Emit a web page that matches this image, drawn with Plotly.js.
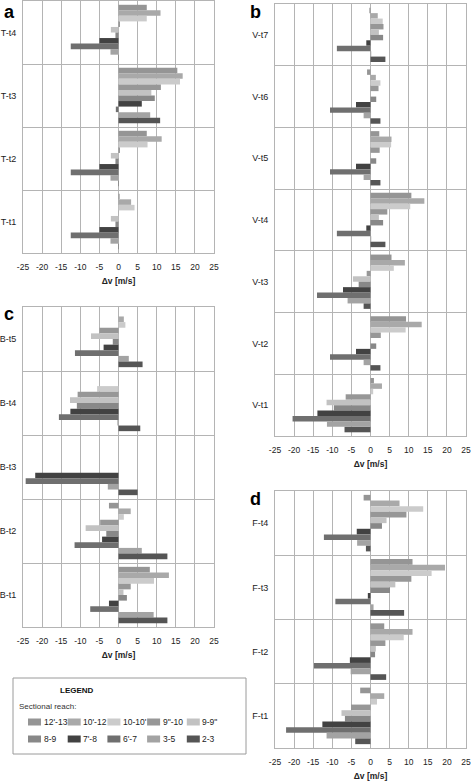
<!DOCTYPE html>
<html><head><meta charset="utf-8">
<script src="https://cdn.plot.ly/plotly-3.0.1.min.js"></script>
<style>html,body{margin:0;padding:0;background:#fff}#chart{width:472px;height:782px}</style>
</head><body><div id="chart"></div>
<script>
// ---- data ----
const reaches = ["12'-13", "10'-12", "10-10'", "9\"-10", "9-9\"", "8-9", "7'-8", "6'-7", "3-5", "2-3"];
const xTicks = [-25, -20, -15, -10, -5, 0, 5, 10, 15, 20, 25];

const catsT = ["T-t4", "T-t3", "T-t2", "T-t1"];
const valsT = [
  [7.4, 11.0, 7.4, 0.4, -2.0, -0.8, -5.0, -12.5, -2.1, 0.1],
  [15.4, 16.8, 16.1, 11.1, 8.6, 9.5, 6.1, -0.7, 8.3, 10.9],
  [7.4, 11.3, 7.6, 0.4, -2.0, -0.8, -5.0, -12.5, -2.1, 0.1],
  [0.3, 3.3, 4.2, 0.0, -2.0, -0.8, -5.0, -12.5, -2.1, 0.1]
];

const catsV = ["V-t7", "V-t6", "V-t5", "V-t4", "V-t3", "V-t2", "V-t1"];
const valsV = [
  [-0.3, 1.9, 3.2, 3.4, 2.2, 3.3, -1.1, -8.8, 0.2, 3.9],
  [-0.9, 1.4, 2.6, 2.1, 0.0, 1.5, -3.8, -10.6, -1.8, 2.6],
  [2.3, 5.5, 5.4, 2.4, 0.0, 1.5, -3.8, -10.6, -1.8, 2.6],
  [10.7, 14.1, 10.4, 4.4, 2.2, 3.3, -1.1, -8.8, 0.2, 3.9],
  [5.5, 9.0, 6.1, -1.0, -4.6, -3.1, -7.2, -14.0, -6.0, -1.8],
  [9.3, 13.4, 9.2, 2.7, 0.0, 1.5, -3.8, -10.6, -1.8, 2.6],
  [0.9, 3.0, 0.7, -6.5, -11.5, -9.6, -13.9, -20.4, -11.4, -6.8]
];

const catsB = ["B-t5", "B-t4", "B-t3", "B-t2", "B-t1"];
const valsB = [
  [0.0, 1.4, 1.8, -5.0, -7.2, -1.5, -3.9, -11.4, 2.7, 6.3],
  [0.0, 0.0, -5.6, -10.7, -12.7, -10.9, -12.6, -15.6, -0.3, 5.7],
  [0.0, 0.0, 0.0, 0.0, 0.0, 0.0, -21.8, -24.3, -2.8, 5.0],
  [-2.5, 3.2, 1.4, -4.8, -8.6, -3.2, -4.3, -11.5, 6.1, 12.8],
  [8.2, 13.2, 9.3, 3.2, 1.3, 2.2, -2.5, -7.4, 9.2, 12.8]
];

const catsF = ["F-t4", "F-t3", "F-t2", "F-t1"];
const valsF = [
  [-1.8, 7.6, 13.8, 9.4, 4.2, 3.0, -3.6, -12.2, -3.5, -1.2],
  [11.0, 19.5, 16.0, 10.7, 6.5, 5.1, -0.7, -9.2, 0.8, 8.8],
  [3.6, 11.0, 8.7, 3.9, 1.4, 1.2, -5.4, -14.8, -5.2, 4.1],
  [-2.7, 3.6, 1.7, -5.1, -7.6, -6.7, -12.6, -22.1, -11.5, -4.0]
];

// ---- style ----
const reachColors = ["#959595", "#a9a9a9", "#cbcbcb", "#979797", "#c2c2c2", "#888888", "#424242", "#6f6f6f", "#a3a3a3", "#555555"];
const W = 472, H = 782;
const FONT = "Liberation Sans, Arial, sans-serif";
const GRID = "#b4b4b4";
const px = v => v / W;
const py = v => 1 - v / H;

const panels = [
  {cats: catsT, vals: valsT, n: 1, box: [23, 214, 1, 253], letter: "a", lx: 2, ly: 0},
  {cats: catsV, vals: valsV, n: 2, box: [275, 466, 4, 436], letter: "b", lx: 248, ly: 0},
  {cats: catsB, vals: valsB, n: 3, box: [23, 214, 307, 627], letter: "c", lx: 2, ly: 302},
  {cats: catsF, vals: valsF, n: 4, box: [275, 466, 491, 748], letter: "d", lx: 248, ly: 487}
];

const data = [];
const layout = {
  width: W, height: H, autosize: false,
  margin: {l: 0, r: 0, t: 0, b: 0},
  paper_bgcolor: "#fff", plot_bgcolor: "#fff",
  barmode: "group", bargap: 0.12, bargroupgap: 0,
  showlegend: false,
  font: {family: FONT, color: "#222"},
  annotations: [], shapes: []
};

panels.forEach(p => {
  const xs = p.n === 1 ? "x" : "x" + p.n;
  const ys = p.n === 1 ? "y" : "y" + p.n;
  const xk = p.n === 1 ? "xaxis" : "xaxis" + p.n;
  const yk = p.n === 1 ? "yaxis" : "yaxis" + p.n;
  reaches.forEach((r, i) => {
    data.push({
      type: "bar", orientation: "h", name: r,
      y: p.cats, x: p.vals.map(row => row[i]),
      xaxis: xs, yaxis: ys,
      marker: {color: reachColors[i], line: {width: 0}},
      showlegend: false, hoverinfo: "x+name"
    });
  });
  const [x0, x1, y0, y1] = p.box;
  layout[xk] = {
    domain: [px(x0), px(x1)], anchor: ys,
    range: [-25, 25], tickvals: xTicks, ticktext: xTicks.map(String),
    showgrid: true, gridcolor: GRID, gridwidth: 1, zeroline: false,
    showline: true, mirror: true, linecolor: GRID, linewidth: 1,
    ticks: "", ticklabelstandoff: 6,
    tickfont: {size: 8.5, family: FONT, color: "#222"},
    title: {text: "<b>\u0394v [m/s]</b>", font: {size: 8.5, family: FONT, color: "#222"}, standoff: 6},
    fixedrange: true
  };
  layout[yk] = {
    domain: [py(y1), py(y0)], anchor: xs,
    type: "category", categoryorder: "array", categoryarray: p.cats,
    range: [p.cats.length - 0.5, -0.5],
    tickson: "boundaries", showgrid: true, gridcolor: GRID, gridwidth: 1,
    showline: true, mirror: true, linecolor: GRID, linewidth: 1,
    ticks: "", ticklabelstandoff: 4,
    tickfont: {size: 9, family: FONT, color: "#222"},
    fixedrange: true
  };
  layout.annotations.push({
    xref: "paper", yref: "paper", x: px(p.lx), y: py(p.ly),
    xanchor: "left", yanchor: "top", showarrow: false,
    text: "<b>" + p.letter + "</b>", font: {size: 18, family: FONT, color: "#000"}
  });
});

// ---- legend box ----
layout.shapes.push({
  type: "rect", xref: "paper", yref: "paper",
  x0: px(13), x1: px(246), y0: py(754), y1: py(678),
  line: {color: "#9a9a9a", width: 1}, fillcolor: "rgba(0,0,0,0)"
});
layout.annotations.push({
  xref: "paper", yref: "paper", x: px(77), y: py(690), xanchor: "center", yanchor: "middle",
  showarrow: false, text: "<b>LEGEND</b>", font: {size: 8, family: FONT, color: "#111"}
});
layout.annotations.push({
  xref: "paper", yref: "paper", x: px(17), y: py(706), xanchor: "left", yanchor: "middle",
  showarrow: false, text: "Sectional reach:", font: {size: 8, family: FONT, color: "#333"}
});
reaches.forEach((r, i) => {
  const col = i % 5, row = Math.floor(i / 5);
  const sx = 28 + col * 39.7, sy = 722 + row * 17;
  layout.shapes.push({
    type: "rect", xref: "paper", yref: "paper",
    x0: px(sx), x1: px(sx + 13), y0: py(sy + 3.5), y1: py(sy - 3.5),
    line: {width: 0}, fillcolor: reachColors[i]
  });
  layout.annotations.push({
    xref: "paper", yref: "paper", x: px(sx + 13.5), y: py(sy), xanchor: "left", yanchor: "middle",
    showarrow: false, text: r, font: {size: 8.5, family: FONT, color: "#222"}
  });
});

Plotly.newPlot("chart", data, layout, {staticPlot: true, displayModeBar: false});
</script>
</body></html>
